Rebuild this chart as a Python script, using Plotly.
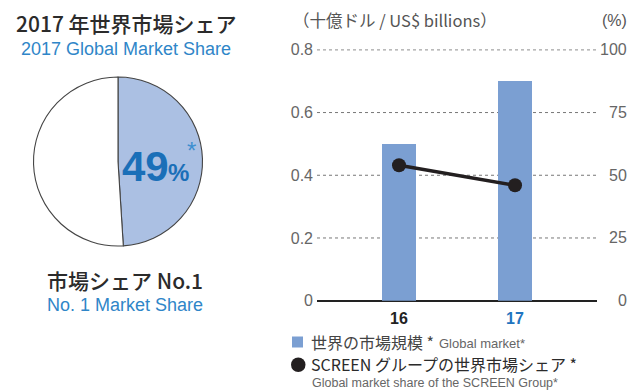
import plotly.graph_objects as go

# Market data
years = ["16", "17"]
market_size = [0.50, 0.70]          # US$ billions
group_share = [54, 46]              # %
pie_labels = ["SCREEN", "Others"]
pie_values = [49, 51]
left_ticks = [0, 0.2, 0.4, 0.6, 0.8]
left_tick_text = ["0", "0.2", "0.4", "0.6", "0.8"]
right_ticks = [0, 25, 50, 75, 100]
right_tick_text = ["0", "25", "50", "75", "100"]
year_colors = ["#222222", "#1f74c0"]

W, H = 633, 390
JP = "Noto Sans CJK JP"
EN = "Liberation Sans"
DARK = "#2b2b2b"
GRAY = "#555555"
LGRAY = "#666666"
BLUE_TXT = "#2f86c8"
BAR = "#7b9fd2"
PIE_BLUE = "#abc0e3"

def px(x):
    return x / W

def py(y):
    return 1 - y / H

fig = go.Figure()

# Pie of 2017 share
fig.add_trace(go.Pie(
    labels=pie_labels, values=pie_values, sort=False, direction="clockwise",
    rotation=0, marker=dict(colors=[PIE_BLUE, "white"], line=dict(color="#444444", width=1.1)),
    textinfo="none", hoverinfo="label+percent", showlegend=False,
    domain=dict(x=[px(33), px(203)], y=[py(246), py(77)]),
))

# Bars and line
x_idx = [0, 1]
fig.add_trace(go.Bar(x=x_idx, y=market_size, marker=dict(color=BAR, line=dict(width=0)),
                     width=0.285, showlegend=False, xaxis="x", yaxis="y"))
fig.add_trace(go.Scatter(x=x_idx, y=group_share, mode="lines+markers",
                         line=dict(color="#231f20", width=3.5),
                         marker=dict(color="#231f20", size=14),
                         showlegend=False, xaxis="x", yaxis="y2"))

x_dom = [px(317), px(597)]
y_dom = [py(300.7), py(49.2)]

fig.update_layout(
    width=W, height=H, margin=dict(l=0, r=0, t=0, b=0),
    paper_bgcolor="white", plot_bgcolor="white",
    bargap=0,
    xaxis=dict(domain=x_dom, range=[-0.707, 1.707], showticklabels=False, automargin=False,
               showgrid=False, zeroline=False, showline=False, ticks="", fixedrange=True),
    yaxis=dict(domain=y_dom, range=[0, 0.802], tickvals=left_ticks, ticktext=left_tick_text,
               automargin=False, showgrid=False,
               zeroline=True, zerolinecolor="#222222", zerolinewidth=1.5,
               showline=False, ticks="", ticklabelstandoff=3,
               tickfont=dict(family=EN, size=16, color=LGRAY)),
    yaxis2=dict(domain=y_dom, range=[0, 100.25], overlaying="y", side="right",
                anchor="x", automargin=False, showticklabels=False,
                showgrid=False, zeroline=False, showline=False, ticks=""),
)

ann = []

def text(x, y, t, size, color, family, xanchor="left", yanchor="middle",
         xref="paper", yref="paper", weight=None):
    f = dict(size=size, color=color, family=family)
    if weight:
        f["weight"] = weight
    ann.append(dict(x=x, y=y, xref=xref, yref=yref, text=t, showarrow=False,
                    xanchor=xanchor, yanchor=yanchor, font=f))

# Left panel titles
text(px(126), py(23), "2017 年世界市場シェア", 21, DARK, JP, "center", weight=500)
text(px(126), py(49), "2017 Global Market Share", 18, BLUE_TXT, EN, "center")
text(px(125), py(280), "市場シェア No.1", 21, DARK, JP, "center", weight=500)
text(px(125), py(305), "No. 1 Market Share", 18, BLUE_TXT, EN, "center")

# Pie value label
text(px(120), py(166), "<b>49</b>", 42, "#1a6fb8", EN)
text(px(166), py(172), "<b>%</b>", 24, "#1a6fb8", EN)
text(px(185), py(151), "*", 24, "#3d8fd0", EN)

# Axis titles
text(px(291), py(20), "（十億ドル / US$ billions）", 16.5, GRAY, JP)
text(px(629), py(20), "(%)", 16, GRAY, EN, "right")

# Right axis tick labels, right-aligned against the edge
for v, t in zip(right_ticks, right_tick_text):
    ann.append(dict(x=px(629), y=v, xref="paper", yref="y2", text=t, showarrow=False,
                    xanchor="right", yanchor="middle",
                    font=dict(size=16, color=LGRAY, family=EN)))

# Category labels
for xi, lab, col in zip(x_idx, years, year_colors):
    ann.append(dict(x=xi, y=py(318), xref="x", yref="paper", text=f"<b>{lab}</b>",
                    showarrow=False, xanchor="center", yanchor="middle",
                    font=dict(size=16, color=col, family=EN)))

# Legend
text(px(309), py(342), "世界の市場規模 *", 16, "#444444", JP)
text(px(437), py(343), "Global market*", 13, LGRAY, EN)
text(px(309), py(364), "SCREEN グループの世界市場シェア *", 16, DARK, JP)
text(px(310), py(382.5), "Global market share of the SCREEN Group*", 12.5, LGRAY, EN)

# Dotted horizontal gridlines behind the bars
grid = [dict(type="line", xref="x domain", yref="y", x0=0, x1=1, y0=v, y1=v,
             line=dict(color="#777777", width=1, dash="dot"), layer="below")
        for v in left_ticks if v > 0]

fig.update_layout(annotations=ann, shapes=grid + [
    dict(type="rect", xref="paper", yref="paper", x0=px(292), x1=px(303), y0=py(347.5), y1=py(336.5),
         fillcolor=BAR, line=dict(width=0)),
    dict(type="circle", xref="paper", yref="paper", x0=px(291), x1=px(305.5), y0=py(372), y1=py(357.5),
         fillcolor="#231f20", line=dict(width=0)),
])

fig.write_html("out.html")
